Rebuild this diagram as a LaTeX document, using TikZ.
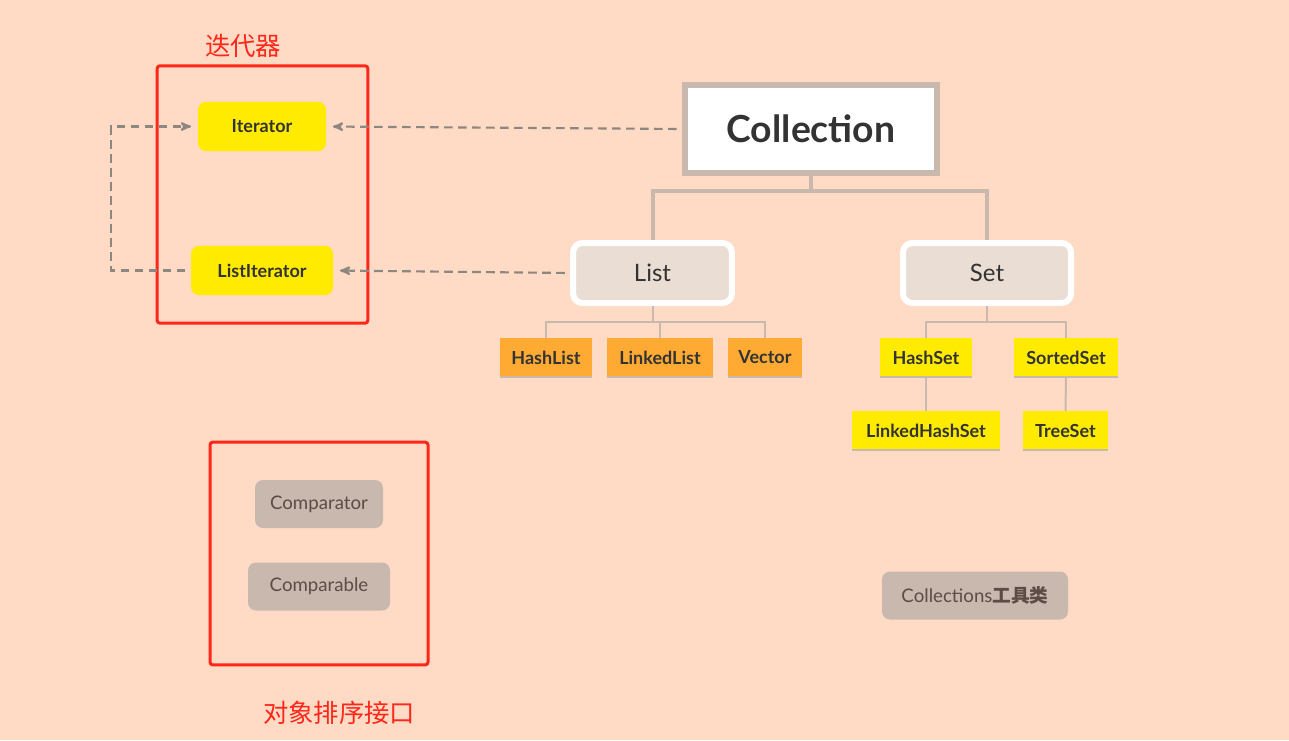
\documentclass[tikz,border=0pt]{standalone}
\usepackage{fontspec}
\setmainfont{Lato}
\newfontfamily\cjk{Noto Sans CJK SC}
\usetikzlibrary{positioning, arrows}
\definecolor{peach}{RGB}{255,218,196}
\definecolor{markred}{RGB}{255,38,26}
\definecolor{ifyellow}{RGB}{255,235,0}
\definecolor{implorange}{RGB}{255,170,51}
\definecolor{taupe}{RGB}{200,184,174}
\definecolor{pale}{RGB}{234,221,211}
\definecolor{ink}{RGB}{51,51,51}
\definecolor{brownink}{RGB}{93,75,69}
\definecolor{dashgray}{RGB}{142,134,128}
\tikzset{
x=0.75pt, y=-0.75pt, % one unit is one pixel of the picture, y runs down
>=stealth', % arrow heads of the dashed links
root/.style={draw=taupe, line width=4.5pt, fill=white, text=ink, font=\fontsize{28}{32}\selectfont\bfseries, minimum width=189pt, minimum height=66pt}, % the top interface
group/.style={draw=white, line width=4.5pt, fill=pale, text=ink, rounded corners=7pt, font=\fontsize{18}{21}\selectfont, minimum height=45pt}, % List and Set
iface/.style={fill=ifyellow, text=ink, rounded corners=6pt, font=\fontsize{13.5}{16}\selectfont\bfseries, minimum height=37pt}, % iterators
impl/.style={fill=implorange, text=ink, font=\fontsize{13.5}{16}\selectfont\bfseries, minimum height=29pt, inner sep=0pt}, % list classes
setimpl/.style={impl, fill=ifyellow}, % set classes
tool/.style={fill=taupe, text=brownink, rounded corners=6pt, font=\fontsize{14}{17}\selectfont, minimum height=36pt}, % helper types
frame/.style={draw=markred, line width=2.25pt, rounded corners=2pt}, % red marker boxes
note/.style={text=markred, font=\cjk\fontsize{19}{22}\selectfont}, % red captions
trunk/.style={draw=taupe, line width=3pt}, % main tree lines
twig/.style={draw=taupe, line width=1.5pt}, % small tree lines
dep/.style={->, draw=dashgray, line width=1.6pt, dash pattern=on 6.5pt off 4pt, shorten >=5pt, shorten <=4pt}, % dashed links
}
\begin{document}
\begin{tikzpicture}
  \useasboundingbox[fill=peach] (0,0) rectangle (1289,740);

  % Collection tree
  \node[root] (coll) at (811,129) {Collection};
  \node[group, minimum width=119pt] (list) at (652.5,273) {List};
  \node[group, minimum width=126pt] (set) at (987,273) {Set};
  \node[impl, minimum width=69pt] (hl) at (546,357.5) {HashList};
  \node[impl, minimum width=79.5pt] (ll) at (660,357.5) {LinkedList};
  \node[impl, minimum width=55.5pt] (vec) at (765,357.5) {Vector};
  \node[setimpl, minimum width=69pt] (hs) at (926,357.5) {HashSet};
  \node[setimpl, minimum width=78pt] (ss) at (1066,357.5) {SortedSet};
  \node[setimpl, minimum width=111pt] (lhs) at (926,430.5) {LinkedHashSet};
  \node[setimpl, minimum width=64pt] (ts) at (1065.5,430.5) {TreeSet};

  % Iterators
  \node[frame, minimum width=158pt, minimum height=193pt] (itbox) at (262.5,194.5) {};
  \node[note] (itnote) at (243,46) {迭代器};
  \node[iface, minimum width=96pt] (it) at (262,126.5) {Iterator};
  \node[iface, minimum width=106.5pt] (lit) at (262,270.5) {ListIterator};

  % Sorting interfaces and helpers
  \node[frame, minimum width=163.5pt, minimum height=167pt] (cmpbox) at (319,553.5) {};
  \node[note] (cmpnote) at (339,713) {对象排序接口};
  \node[tool, minimum width=96pt] (cmp) at (319,504) {Comparator};
  \node[tool, minimum width=106.5pt] (cmb) at (319,586.5) {Comparable};
  \node[tool, minimum width=139.5pt] (util) at (975,595.5) {Collections{\cjk\bfseries 工具类}};

  % Tree lines
  \coordinate (fork) at (811,191);
  \coordinate (lfork) at (652.5,322);
  \coordinate (sfork) at (987,322);
  \draw[trunk] (coll.south) -- (fork);
  \draw[trunk] (list.north) |- (fork) -| (set.north);
  \draw[twig] (list.south) -- (lfork);
  \draw[twig] (hl.north) |- (lfork) -| (vec.north);
  \draw[twig] (ll.north) -- (ll.north |- lfork);
  \draw[twig] (set.south) -- (sfork);
  \draw[twig] (hs.north) |- (sfork) -| (ss.north);
  \draw[twig] (hs.south) -- (lhs.north);
  \draw[twig] (ss.south) -- (ts.north);
  \foreach \n in {hl, ll, vec, hs, ss, lhs, ts}
    \draw[twig] (\n.south west) -- (\n.south east);

  % Dashed links
  \coordinate (loop) at (111,270.5);
  \draw[dep] (coll.west) -- (it.east);
  \draw[dep] (list.west) -- (lit.east);
  \draw[dep] (lit.west) -- (loop) |- (it.west);
\end{tikzpicture}
\end{document}
